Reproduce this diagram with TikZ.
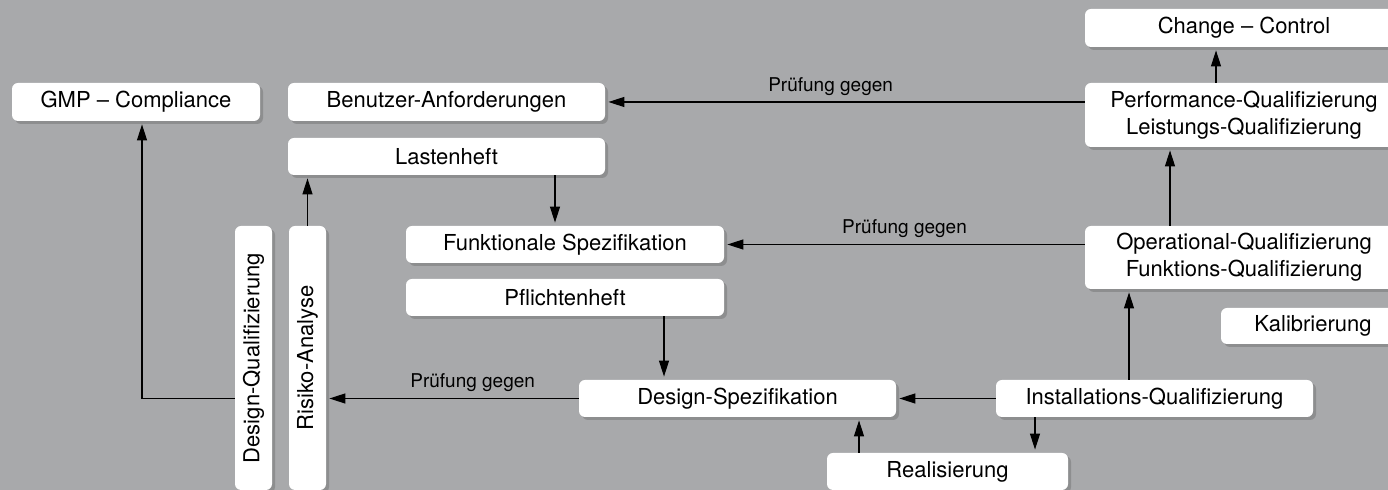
\documentclass[tikz,border=0pt]{standalone}
\usepackage{fontspec}
\setmainfont{TeX Gyre Heros}
\usepackage{graphicx}
\usetikzlibrary{arrows.meta,calc,positioning,shadows}
\definecolor{bggray}{RGB}{168,169,171}

\begin{document}
\begin{tikzpicture}[x=0.5pt, y=-0.5pt, shorten >=1.5pt,
    box/.style={fill=white, rounded corners=3pt, inner sep=0pt, align=center,
      drop shadow={shadow xshift=1.5pt, shadow yshift=-1.5pt, opacity=0.4, fill=black!60},
      font=\fontsize{11}{13.5}\selectfont},
    lbl/.style={above, inner sep=3pt, font=\fontsize{9.5}{11}\selectfont},
    pfeil/.style={-{Triangle[length=8pt,width=5pt]}, line width=0.6pt}]
   \useasboundingbox (0,0) rectangle (1388,490);
   \clip (0,0) rectangle (1388,490);
   \fill[bggray] (0,0) rectangle (1388,490);

   %left column
   \node[box, minimum width=124pt, minimum height=19pt] (gmp) at (136,102) {GMP – Compliance};
   \node[box, minimum width=18.5pt, minimum height=132pt] (dq) at (253.5,358) {\rotatebox{90}{Design-Qualifizierung}};
   \node[box, minimum width=18.5pt, minimum height=132pt] (ra) at (307.5,358) {\rotatebox{90}{Risiko-Analyse}};

   %specifications
   \node[box, minimum width=158.5pt, minimum height=19pt] (ba) at (446.5,102) {Benutzer-Anforderungen};
   \node[box, minimum width=158.5pt, minimum height=18.5pt] (lh) at (446.5,156.5) {Lastenheft};
   \node[box, minimum width=159pt, minimum height=18.5pt] (fs) at (565,244.5) {Funktionale Spezifikation};
   \node[box, minimum width=159pt, minimum height=18.5pt] (ph) at (565,297.5) {Pflichtenheft};
   \node[box, minimum width=158.5pt, minimum height=18.5pt] (ds) at (737.5,398.5) {Design-Spezifikation};
   \node[box, minimum width=120.5pt, minimum height=18.5pt] (re) at (947.5,471.5) {Realisierung};

   %qualification
   \node[box, minimum width=158.5pt, minimum height=18.5pt] (iq) at (1154.5,398.5) {Installations-Qualifizierung};
   \node[box, minimum width=159pt, minimum height=31.5pt] (oq) at (1244,257.5) {Operational-Qualifizierung\\Funktions-Qualifizierung};
   \node[box, minimum width=159pt, minimum height=32pt] (pq) at (1244,115) {Performance-Qualifizierung\\Leistungs-Qualifizierung};
   \node[box, minimum width=159pt, minimum height=19pt] (cc) at (1244,28) {Change – Control};
   \node[box, minimum width=92pt, minimum height=18pt] (kal) at (1313,326) {Kalibrierung};

   %x positions of the vertical arrows
   \coordinate (xgmp) at (142,0);
   \coordinate (xlh) at (555,0);
   \coordinate (xph) at (664,0);
   \coordinate (xre) at (859,0);
   \coordinate (xiqre) at (1035,0);
   \coordinate (xiq) at (1129,0);
   \coordinate (xoq) at (1170,0);
   \coordinate (xpq) at (1216,0);

  \path[pfeil]
    %checks against
    (pq.west |- ba.east) edge node[lbl, pos=0.53] (pg1) {Prüfung gegen} (ba.east)
    (oq.west |- fs.east) edge node[lbl, pos=0.5] (pg2) {Prüfung gegen} (fs.east)
    (ds.west) edge node[lbl, pos=0.42] (pg3) {Prüfung gegen} (ra.east |- ds.west)

    %design chain
    (ra.north) edge (ra.north |- lh.south)
    (xlh |- lh.south) edge (xlh |- fs.north)
    (xph |- ph.south) edge (xph |- ds.north)
    (iq.west) edge (ds.east)
    (xiqre |- iq.south) edge (xiqre |- re.north)
    (xre |- re.north) edge (xre |- ds.south)

    %qualification chain
    (xiq |- iq.north) edge (xiq |- oq.south)
    (xoq |- oq.north) edge (xoq |- pq.south)
    (xpq |- pq.north) edge (xpq |- cc.south);

  \draw[pfeil] (dq.west |- ds.west) -| (xgmp |- gmp.south);
\end{tikzpicture}
\end{document}
